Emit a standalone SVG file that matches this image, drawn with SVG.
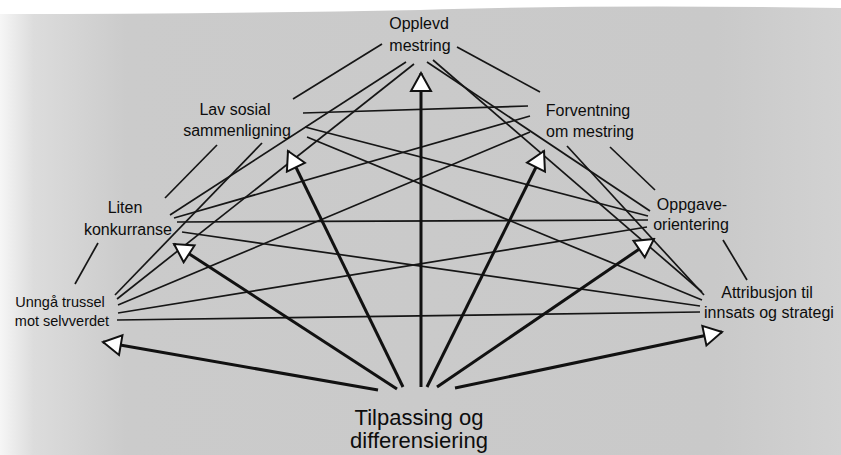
<svg xmlns="http://www.w3.org/2000/svg" width="841" height="455" viewBox="0 0 841 455">
  <defs>
    <linearGradient id="bg" x1="0" y1="0" x2="1" y2="0">
      <stop offset="0" stop-color="#f6f6f6"/>
      <stop offset="0.04" stop-color="#dcdcdc"/>
      <stop offset="0.15" stop-color="#cbcbcb"/>
      <stop offset="0.85" stop-color="#c9c9c9"/>
      <stop offset="1" stop-color="#d2d2d2"/>
    </linearGradient>
    <marker id="open" viewBox="-20 -12 22 24" refX="0" refY="0" markerWidth="22" markerHeight="24" markerUnits="userSpaceOnUse" orient="auto">
      <path d="M0,0 L-18,-10 L-18,10 Z" fill="#ffffff" stroke="#111" stroke-width="2" stroke-linejoin="miter"/>
    </marker>
  </defs>
  <style>
    text { font-family: "Liberation Sans", Arial, sans-serif; font-size: 16px; fill: #0d0d0d; text-anchor: middle; }
    .small { font-size: 14.5px; }
    .big { font-size: 22px; }
    .thin line { stroke: #161616; stroke-width: 1.7; }
    .thick line { stroke: #111; stroke-width: 3; marker-end: url(#open); }
  </style>
  <rect x="0" y="0" width="841" height="455" fill="url(#bg)"/>
  <path d="M0,0 H841 V8 Q600,4 420,10 Q200,14 0,14 Z" fill="#ffffff"/>

  <g id="connectors">
    <g class="thin">
      <!-- Opplevd mestring -->
      <line x1="382" y1="44" x2="293" y2="99"/>
      <line x1="457" y1="47" x2="540" y2="92"/>
      <line x1="406" y1="62" x2="170" y2="215"/>
      <line x1="414" y1="64" x2="117" y2="299"/>
      <line x1="427" y1="62" x2="650" y2="211"/>
      <line x1="433" y1="60" x2="702" y2="292"/>
      <!-- Lav sosial sammenligning -->
      <line x1="303" y1="113" x2="528" y2="106"/>
      <line x1="305" y1="127" x2="648" y2="216"/>
      <line x1="307" y1="137" x2="702" y2="300"/>
      <line x1="217" y1="145" x2="165" y2="198"/>
      <line x1="262" y1="143" x2="115" y2="295"/>
      <!-- Forventning om mestring -->
      <line x1="530" y1="116" x2="174" y2="218"/>
      <line x1="530" y1="132" x2="118" y2="305"/>
      <line x1="567" y1="146" x2="704" y2="295"/>
      <line x1="610" y1="147" x2="655" y2="190"/>
      <!-- Liten konkurranse -->
      <line x1="177" y1="222" x2="648" y2="220"/>
      <line x1="182" y1="232" x2="700" y2="306"/>
      <line x1="98" y1="243" x2="75" y2="284"/>
      <!-- Oppgave-orientering -->
      <line x1="647" y1="227" x2="118" y2="313"/>
      <line x1="723" y1="240" x2="747" y2="280"/>
      <!-- Unngå trussel / Attribusjon -->
      <line x1="117" y1="320" x2="700" y2="312"/>
    </g>
    <g class="thick">
      <line x1="378" y1="390" x2="103" y2="342"/>
      <line x1="397" y1="389" x2="174" y2="244"/>
      <line x1="403" y1="387" x2="288" y2="151"/>
      <line x1="421" y1="387" x2="421" y2="73"/>
      <line x1="427" y1="387" x2="544" y2="151"/>
      <line x1="437" y1="387" x2="654" y2="239"/>
      <line x1="455" y1="388" x2="722" y2="332"/>
    </g>
  </g>

  <g id="opplevd-mestring">
    <text x="419" y="29">Opplevd</text>
    <text x="420" y="51">mestring</text>
  </g>
  <g id="lav-sosial-sammenligning">
    <text x="235" y="115">Lav sosial</text>
    <text x="237" y="136">sammenligning</text>
  </g>
  <g id="forventning-om-mestring">
    <text x="588" y="116">Forventning</text>
    <text x="590" y="137">om mestring</text>
  </g>
  <g id="liten-konkurranse">
    <text x="125" y="213">Liten</text>
    <text x="128" y="235">konkurranse</text>
  </g>
  <g id="oppgave-orientering">
    <text x="692" y="210">Oppgave-</text>
    <text x="691" y="230">orientering</text>
  </g>
  <g id="unnga-trussel">
    <text class="small" x="60" y="307">Unngå trussel</text>
    <text class="small" x="62" y="326">mot selvverdet</text>
  </g>
  <g id="attribusjon">
    <text x="767" y="298">Attribusjon til</text>
    <text x="769" y="318">innsats og strategi</text>
  </g>
  <g id="tilpassing">
    <text class="big" x="419" y="425">Tilpassing og</text>
    <text class="big" x="419" y="448">differensiering</text>
  </g>
</svg>
